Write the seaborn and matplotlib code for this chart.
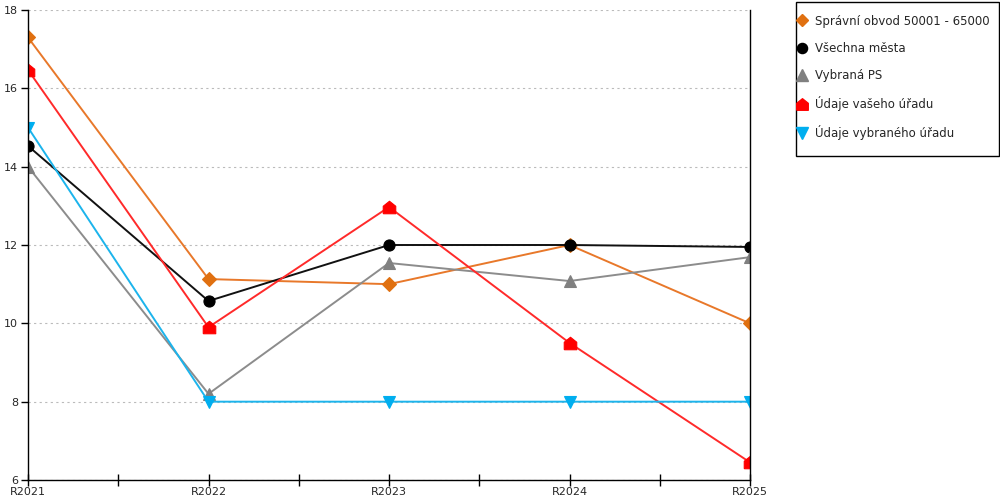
import numpy as np
import matplotlib
matplotlib.use("Agg")
import matplotlib.pyplot as plt
import seaborn as sns
from matplotlib.lines import Line2D
from matplotlib.patches import Rectangle

years = ["R2021", "R2022", "R2023", "R2024", "R2025"]
spravni = [17.3, 11.13, 11.0, 12.0, 10.0]
vsechna = [14.53, 10.57, 12.0, 12.0, 11.95]
vybrana_ps = [14.0, 8.2, 11.54, 11.08, 11.69]
vase_urad = [16.47, 9.9, 12.97, 9.5, 6.45]
vybrany_urad = [15.0, 8.0, 8.0, 8.0, 8.0]

labels = ["Správní obvod 50001 - 65000", "Všechna města", "Vybraná PS",
          "Údaje vašeho úřadu", "Údaje vybraného úřadu"]

house = [(-1, -1), (1, -1), (1, 0.2), (0, 1), (-1, 0.2), (-1, -1)]

series = [
    (spravni, "#E8782A", "#E07010", "D", 7),
    (vsechna, "#111111", "#000000", "o", 8),
    (vybrana_ps, "#8C8C8C", "#808080", "^", 9),
    (vase_urad, "#FF2A2A", "#FF0000", house, 9),
    (vybrany_urad, "#1CB4EC", "#00AEEF", "v", 9),
]

sns.set_style("white")
plt.rcParams["font.family"] = ["DejaVu Sans"]

fig = plt.figure(figsize=(10, 5), dpi=100)
ax = fig.add_axes([0.028, 0.04, 0.722, 0.94])

x = np.arange(len(years))
handles = []
for (vals, lc, mc, mk, ms), lab in zip(series, labels):
    sns.lineplot(x=x, y=vals, ax=ax, color=lc, linewidth=1.4, marker=mk,
                 markersize=ms, markerfacecolor=mc, markeredgecolor=mc,
                 markeredgewidth=0.8)
    handles.append(Line2D([], [], linestyle="none", marker=mk, markersize=ms - 0.7,
                          markerfacecolor=mc, markeredgecolor=mc, label=lab))

ax.set_xlim(0, 4)
ax.set_ylim(6, 18)
ax.set_yticks(np.arange(6, 19, 2))
ax.set_xticks(x)
ax.set_xticklabels(years)
ax.set_xticks(x[:-1] + 0.5, minor=True)
ax.yaxis.grid(True, linestyle=(0, (2, 3)), color="#BBBBBB", linewidth=0.8)
ax.xaxis.grid(False)

for s in ["left", "bottom", "right"]:
    ax.spines[s].set_visible(True)
    ax.spines[s].set_color("black")
    ax.spines[s].set_linewidth(1.0)
ax.spines["top"].set_visible(False)

ax.tick_params(axis="x", which="both", direction="inout", length=8, width=1,
               color="black", labelsize=8, pad=1, bottom=True)
ax.tick_params(axis="y", direction="out", length=5, width=1, color="black",
               labelsize=8, pad=2, left=True)
ax.set_xlabel("")
ax.set_ylabel("")

# legend box drawn separately so the padding can differ per side
fig.patches.append(Rectangle((0.796, 0.688), 0.203, 0.308, transform=fig.transFigure,
                             fill=False, edgecolor="black", linewidth=1.0))
leg = fig.legend(handles=handles, loc="upper left", bbox_to_anchor=(0.7995, 0.971),
                 frameon=False, fontsize=8.5, handlelength=0.5, handletextpad=0.8,
                 labelspacing=1.2, borderpad=0, borderaxespad=0)

fig.savefig("out.png", dpi=100)
